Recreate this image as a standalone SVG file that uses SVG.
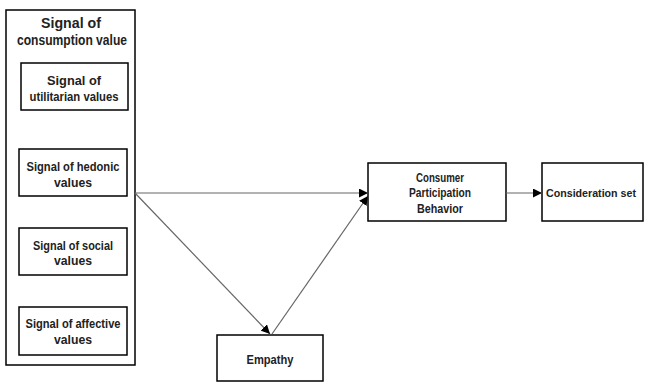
<svg xmlns="http://www.w3.org/2000/svg" width="645" height="383" viewBox="0 0 645 383">
<style>
.box{fill:#fff;stroke:#000;stroke-width:1.5}
.t{font-family:"Liberation Sans",Arial,sans-serif;font-weight:bold;font-size:12.5px;fill:#222;text-anchor:middle;dominant-baseline:central}
.tt{font-size:14.5px}
.c{stroke:#666;stroke-width:1.2;fill:none;marker-end:url(#ah)}
</style>
<defs>
<marker id="ah" viewBox="0 0 10 10" refX="10" refY="5" markerWidth="9" markerHeight="9" markerUnits="userSpaceOnUse" orient="auto">
<path d="M0,0 L10,5 L0,10 z" fill="#000"/>
</marker>
</defs>
<rect width="645" height="383" fill="#fff"/>
<g id="signal-consumption">
<rect class="box" x="6" y="10" width="129" height="355"/>
<text class="t tt" x="71" y="23" textLength="60" lengthAdjust="spacingAndGlyphs">Signal of</text>
<text class="t tt" x="72" y="40" textLength="110" lengthAdjust="spacingAndGlyphs">consumption value</text>
</g>
<g id="utilitarian">
<rect class="box" x="21" y="63" width="107" height="47"/>
<text class="t" x="74" y="81" textLength="54" lengthAdjust="spacingAndGlyphs">Signal of</text>
<text class="t" x="74" y="97" textLength="89" lengthAdjust="spacingAndGlyphs">utilitarian values</text>
</g>
<g id="hedonic">
<rect class="box" x="19" y="149" width="108" height="47"/>
<text class="t" x="73" y="167" textLength="93" lengthAdjust="spacingAndGlyphs">Signal of hedonic</text>
<text class="t" x="73" y="183" textLength="38" lengthAdjust="spacingAndGlyphs">values</text>
</g>
<g id="social">
<rect class="box" x="19" y="228" width="108" height="47"/>
<text class="t" x="73" y="246" textLength="80" lengthAdjust="spacingAndGlyphs">Signal of social</text>
<text class="t" x="73" y="261" textLength="38" lengthAdjust="spacingAndGlyphs">values</text>
</g>
<g id="affective">
<rect class="box" x="19" y="307" width="108" height="48"/>
<text class="t" x="73" y="324" textLength="95" lengthAdjust="spacingAndGlyphs">Signal of affective</text>
<text class="t" x="73" y="340" textLength="38" lengthAdjust="spacingAndGlyphs">values</text>
</g>
<g id="cpb">
<rect class="box" x="368" y="163" width="138" height="58"/>
<text class="t" x="440" y="178" textLength="48" lengthAdjust="spacingAndGlyphs">Consumer</text>
<text class="t" x="440" y="193" textLength="62" lengthAdjust="spacingAndGlyphs">Participation</text>
<text class="t" x="440" y="209" textLength="46" lengthAdjust="spacingAndGlyphs">Behavior</text>
</g>
<g id="consideration">
<rect class="box" x="542" y="163" width="101" height="58"/>
<text class="t" x="591" y="193" style="font-size:10.8px" textLength="90" lengthAdjust="spacingAndGlyphs">Consideration set</text>
</g>
<g id="empathy">
<rect class="box" x="217" y="335" width="106" height="46"/>
<text class="t" x="270" y="360" textLength="47" lengthAdjust="spacingAndGlyphs">Empathy</text>
</g>
<g id="connectors">
<line class="c" x1="135" y1="193" x2="368" y2="193"/>
<line class="c" x1="135" y1="193" x2="270" y2="334"/>
<line class="c" x1="272" y1="334" x2="368" y2="196"/>
<line class="c" x1="506" y1="193" x2="542" y2="193"/>
</g>
</svg>
